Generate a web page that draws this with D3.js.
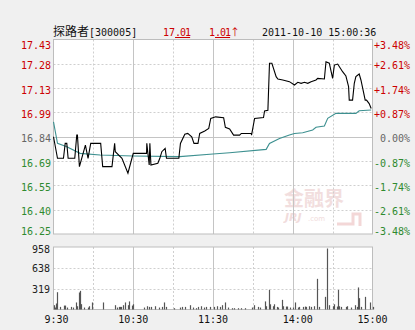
<!DOCTYPE html>
<html>
<head>
<meta charset="utf-8">
<script src="https://cdn.jsdelivr.net/npm/d3@7"></script>
<style>
  html, body { margin: 0; padding: 0; background: #f0f0f0; }
  svg { display: block; }
</style>
</head>
<body>
<div id="chart"></div>
<script>
// --- data ---
const prevClose = 16.84;
const pctTicks = [3.48, 2.61, 1.74, 0.87, 0, -0.87, -1.74, -2.61, -3.48];
const priceLabels = ['17.43', '17.28', '17.13', '16.99', '16.84', '16.69', '16.55', '16.40', '16.25'];
const pctLabels = ['+3.48%', '+2.61%', '+1.74%', '+0.87%', '0.00%', '-0.87%', '-1.74%', '-2.61%', '-3.48%'];
const volTicks = [958, 638, 319];
const timeTicks = [0, 60, 120, 180, 240];
const timeLabels = ['9:30', '10:30', '11:30', '14:00', '15:00'];
const timeLabelShift = [3, 0, 0, 5, 0];

// minute since 9:30 / price
const priceMin = [0, 3, 7.5, 8.8, 10, 11, 16, 17.5, 18, 19.5, 24, 26, 28, 35.5, 37, 44, 46, 46.5, 51.5, 56, 60, 70,
  70.2, 72, 72.5, 73.3, 78.5, 80, 81.5, 84, 85, 94.3, 95.5, 98.8, 101, 104, 105.7, 108.7, 110, 113.8, 116.8, 118.3,
  122, 128, 129.3, 132.5, 135.5, 140, 141.3, 148.8, 149, 151.3, 158, 158.8, 161.3, 162.5, 164.3, 167.5, 168.8,
  172.5, 177.5, 181.3, 183.8, 186.3, 188.8, 191.3, 193.8, 197.5, 198.8, 203.8, 205, 207.5, 210, 211.3, 213.8,
  217.5, 220, 222, 222.5, 225, 226.3, 227.5, 230, 231.3, 234.5, 235.5, 237.5, 239];
const priceVal = [16.84, 16.71, 16.71, 16.80, 16.80, 16.71, 16.71, 16.85, 16.85, 16.66, 16.79, 16.71, 16.80, 16.80,
  16.66, 16.66, 16.80, 16.75, 16.71, 16.62, 16.74, 16.74, 16.80, 16.67, 16.80, 16.67, 16.68, 16.71, 16.75, 16.77,
  16.71, 16.71, 16.80, 16.855, 16.86, 16.84, 16.80, 16.80, 16.86, 16.875, 16.89, 16.95, 16.96, 16.955, 16.897,
  16.887, 16.85, 16.85, 16.86, 16.86, 16.85, 16.95, 16.956, 16.995, 17.00, 17.283, 17.283, 17.202, 17.188, 17.182,
  17.172, 17.152, 17.168, 17.162, 17.168, 17.162, 17.172, 17.182, 17.192, 17.188, 17.292, 17.283, 17.192, 17.272,
  17.278, 17.232, 17.206, 17.142, 17.061, 17.061, 17.162, 17.202, 17.218, 17.182, 17.061, 17.061, 17.04, 17.01];

// average price line
const avgMin = [0, 3, 10, 20, 35, 60, 95, 120, 132.5, 160, 162.5, 170, 177.5, 181.3, 187.5, 195, 197.5, 203.8,
  206.3, 212.5, 227.5, 230, 239];
const avgVal = [16.93, 16.80, 16.78, 16.74, 16.73, 16.724, 16.72, 16.736, 16.744, 16.764, 16.80, 16.83, 16.85,
  16.86, 16.864, 16.881, 16.897, 16.905, 16.951, 16.981, 16.981, 16.997, 17.001];

// volume per minute
const volMin = [0, 1, 2, 3, 5, 8, 9, 10, 13, 15, 17, 18, 19, 20, 21, 23, 26, 27, 29, 37, 46, 48, 49, 50, 51, 52, 54,
  56, 57, 59, 60, 68, 70, 72, 73, 76, 79, 82, 83, 85, 91, 95, 97, 99, 103, 105, 107, 109, 111, 113, 115, 118, 121,
  123, 125, 127, 129, 131, 134, 136, 139, 141, 144, 149, 151, 154, 155, 159, 160, 162, 163, 165, 166, 168, 169, 172,
  173, 175, 176, 178, 180, 182, 184, 185, 188, 189, 190, 192, 194, 196, 198, 200, 204, 206, 207, 210, 211, 213, 214,
  215, 216, 220, 221, 224, 227, 228, 229, 230, 231, 234, 238, 240];
const volVal = [66, 30, 92, 265, 40, 60, 60, 30, 40, 30, 108, 50, 261, 286, 82, 30, 30, 50, 108, 108, 66, 30, 40, 40,
  40, 66, 108, 66, 124, 60, 80, 30, 50, 40, 40, 50, 30, 40, 108, 40, 20, 30, 40, 40, 66, 30, 20, 40, 50, 30, 40, 40,
  40, 50, 40, 66, 108, 30, 20, 20, 20, 20, 20, 30, 66, 40, 30, 124, 50, 302, 80, 50, 80, 40, 30, 148, 50, 45, 45,
  30, 30, 108, 30, 40, 40, 45, 40, 50, 40, 50, 470, 40, 194, 935, 66, 50, 80, 45, 300, 50, 40, 40, 50, 30, 66, 40,
  338, 174, 40, 194, 108, 40];

// --- layout ---
const W = 415, H = 330;
const left = 53.5, right = 372.5;
const pTop = 39.5, pBottom = 234;
const vTop = 247, vBottom = 309.5;

const mono = '"DejaVu Sans Mono", "Liberation Mono", monospace';
const cjk = '"Noto Sans CJK SC", sans-serif';
const red = '#cc0000', green = '#2f8a2f', gray = '#666666';

const x = d3.scaleLinear().domain([0, 240]).range([left, right]);
const y = d3.scaleLinear()
  .domain([prevClose * (1 - 0.0348), prevClose * (1 + 0.0348)])
  .range([pBottom, pTop]);
const yv = d3.scaleLinear().domain([0, 958]).range([vBottom, vTop]);

const svg = d3.select('#chart').append('svg')
  .attr('width', W)
  .attr('height', H)
  .style('background', '#f0f0f0');

// Header
const header = svg.append('text')
  .attr('y', 36)
  .style('font-size', '12px');
header.append('tspan').attr('x', 53).style('font-family', cjk).attr('fill', '#111').text('探路者');
header.append('tspan').style('font-family', mono).style('font-size', '10px').attr('fill', '#111').text('[300005]');

const last = svg.append('text').attr('x', 163).attr('y', 36)
  .style('font-family', mono).style('font-size', '10px').attr('fill', red);
last.append('tspan').text('17');
last.append('tspan').style('text-decoration', 'underline').attr('letter-spacing', -1).text('.01');

const chg = svg.append('text').attr('x', 209).attr('y', 36)
  .style('font-family', mono).style('font-size', '10px').attr('fill', red);
chg.append('tspan').text('1');
chg.append('tspan').style('text-decoration', 'underline').attr('letter-spacing', -1).text('.01');
chg.append('tspan').style('font-family', cjk).text('↑');

svg.append('text').attr('x', 262).attr('y', 36)
  .style('font-family', mono).style('font-size', '10px').attr('fill', '#111')
  .text('2011-10-10 15:00:36');

// Panels
svg.append('rect').attr('x', left).attr('y', pTop).attr('width', right - left).attr('height', pBottom - pTop)
  .attr('fill', '#fff');
svg.append('rect').attr('x', left).attr('y', vTop).attr('width', right - left).attr('height', vBottom - vTop)
  .attr('fill', '#fff');

// Watermark
const wm = svg.append('g').attr('opacity', 0.55);
wm.append('text').attr('x', 284).attr('y', 206)
  .style('font-family', cjk).style('font-size', '20px').style('font-weight', 700)
  .attr('fill', '#e8c4c4').text('金融界');
wm.append('text').attr('x', 285).attr('y', 221)
  .style('font-family', '"DejaVu Sans", sans-serif').style('font-size', '11px')
  .style('font-style', 'italic').style('font-weight', 700)
  .attr('fill', '#e6c0c0').text('JRJ');
wm.append('text').attr('x', 308).attr('y', 221)
  .style('font-family', '"DejaVu Sans", sans-serif').style('font-size', '7px')
  .attr('fill', '#e6c0c0').text('.com');
wm.append('path')
  .attr('d', 'M337,224 L353,224 L353,214 L360,214 L360,226')
  .attr('fill', 'none').attr('stroke', '#eab8b8').attr('stroke-width', 3);

// Grid: horizontal
const grid = svg.append('g');
grid.selectAll('line.h')
  .data(pctTicks.slice(1, -1))
  .join('line')
  .attr('x1', left).attr('x2', right)
  .attr('y1', d => Math.round(y(prevClose * (1 + d / 100))) + 0.5)
  .attr('y2', d => Math.round(y(prevClose * (1 + d / 100))) + 0.5)
  .attr('stroke', d => d === 0 ? '#c4c4c4' : '#cfcfcf')
  .attr('stroke-dasharray', d => d === 0 ? null : '2,2');

grid.selectAll('line.vh')
  .data(volTicks.slice(1))
  .join('line')
  .attr('x1', left).attr('x2', right)
  .attr('y1', d => Math.round(yv(d)) + 0.5)
  .attr('y2', d => Math.round(yv(d)) + 0.5)
  .attr('stroke', '#cfcfcf')
  .attr('stroke-dasharray', '2,2');

// Grid: vertical (solid on the hour, dashed on the half hour)
const vMinutes = d3.range(30, 240, 30);
[[pTop, pBottom], [vTop, vBottom]].forEach(([t, b]) => {
  grid.append('g').selectAll('line')
    .data(vMinutes)
    .join('line')
    .attr('x1', d => Math.round(x(d)) + 0.5)
    .attr('x2', d => Math.round(x(d)) + 0.5)
    .attr('y1', t).attr('y2', b)
    .attr('stroke', d => d % 60 === 0 ? '#c4c4c4' : '#cfcfcf')
    .attr('stroke-dasharray', d => d % 60 === 0 ? null : '2,2');
});

// Borders
[[pTop, pBottom], [vTop, vBottom]].forEach(([t, b]) => {
  svg.append('rect').attr('x', left).attr('y', t).attr('width', right - left).attr('height', b - t)
    .attr('fill', 'none').attr('stroke', '#bdbdbd');
});

// Volume bars
svg.append('g').selectAll('line')
  .data(volMin.map((m, i) => ({ m, v: volVal[i] })))
  .join('line')
  .attr('x1', d => Math.round(x(d.m)) + 0.5)
  .attr('x2', d => Math.round(x(d.m)) + 0.5)
  .attr('y1', yv(0))
  .attr('y2', d => yv(d.v))
  .attr('stroke', '#555')
  .attr('stroke-width', 1.2);

// Average line
const avgData = avgMin.map((m, i) => ({ m, p: avgVal[i] }));
svg.append('path')
  .datum(avgData)
  .attr('fill', 'none')
  .attr('stroke', '#3d9090')
  .attr('stroke-width', 1.1)
  .attr('d', d3.line().x(d => x(d.m)).y(d => y(d.p)));

// Price line
const priceData = priceMin.map((m, i) => ({ m, p: priceVal[i] }));
svg.append('path')
  .datum(priceData)
  .attr('fill', 'none')
  .attr('stroke', '#000')
  .attr('stroke-width', 1.1)
  .attr('d', d3.line().x(d => x(d.m)).y(d => y(d.p)));

// Axis labels: price (left) and percent (right)
const tickColor = d => d > 0 ? red : (d < 0 ? green : gray);
const labelY = d => Math.max(45, Math.min(231, y(prevClose * (1 + d / 100)) + 1.5)) + 4;

svg.append('g').selectAll('text')
  .data(pctTicks)
  .join('text')
  .attr('x', 51)
  .attr('y', d => labelY(d))
  .attr('text-anchor', 'end')
  .style('font-family', mono).style('font-size', '10px')
  .attr('fill', tickColor)
  .text((d, i) => priceLabels[i]);

svg.append('g').selectAll('text')
  .data(pctTicks)
  .join('text')
  .attr('x', 410)
  .attr('y', d => labelY(d))
  .attr('text-anchor', 'end')
  .style('font-family', mono).style('font-size', '10px')
  .attr('fill', tickColor)
  .text((d, i) => pctLabels[i]);

// Volume labels
svg.append('g').selectAll('text')
  .data(volTicks)
  .join('text')
  .attr('x', 50)
  .attr('y', d => Math.max(yv(d), 249) + 4)
  .attr('text-anchor', 'end')
  .style('font-family', mono).style('font-size', '10px')
  .attr('fill', '#222')
  .text(d => d);

// Time labels
svg.append('g').selectAll('text')
  .data(timeTicks)
  .join('text')
  .attr('x', (d, i) => x(d) + timeLabelShift[i])
  .attr('y', 323)
  .attr('text-anchor', 'middle')
  .style('font-family', mono).style('font-size', '10px')
  .attr('fill', '#111')
  .text((d, i) => timeLabels[i]);
</script>
</body>
</html>
